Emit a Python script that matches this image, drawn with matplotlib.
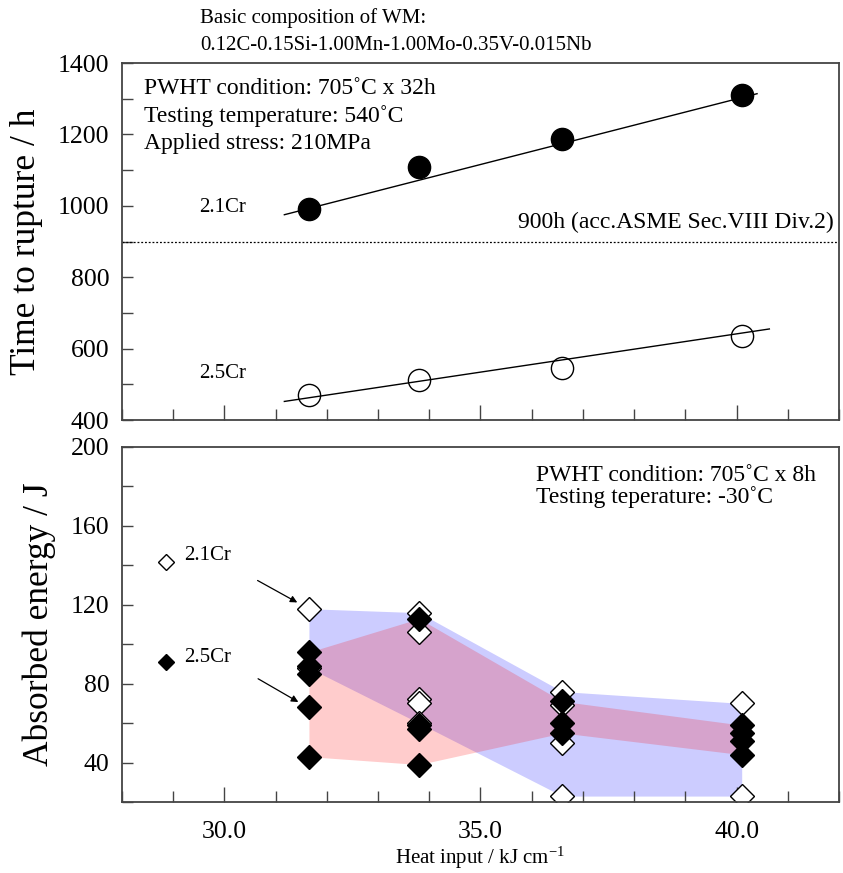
import numpy as np
import matplotlib
matplotlib.use("Agg")
from matplotlib import pyplot as plt
from matplotlib.ticker import MultipleLocator

plt.rcParams['font.family'] = ['Liberation Serif', 'DejaVu Serif']
plt.rcParams['mathtext.fontset'] = 'stix'

# heat input (kJ/cm) of the four welds
heat_input = [31.65, 33.8, 36.6, 40.1]

# creep rupture time (h)
rupture_21cr = [991, 1108, 1188, 1309]
rupture_25cr = [471, 513, 546, 634]
# trend lines
trend_21cr_x = [31.17, 40.40]
trend_21cr_y = [975, 1314]
trend_25cr_x = [31.17, 40.64]
trend_25cr_y = [452, 655]
asme_limit = 900

# absorbed energy (J), several specimens per weld
energy_21cr = [[118, 88], [116, 106, 72, 70, 60], [76, 69, 50, 23], [70, 23]]
energy_25cr = [[96, 89, 85, 68, 43], [113, 59, 57, 39], [71, 60, 55], [59, 55, 51, 44]]

W, H = 843, 873
fig = plt.figure(figsize=(W / 100, H / 100), dpi=100)

def box(l, t, r, b):
    return [l / W, 1 - b / H, (r - l) / W, (b - t) / H]

ax1 = fig.add_axes(box(122, 63, 839, 420))
ax2 = fig.add_axes(box(122, 447, 839, 802))

for ax in (ax1, ax2):
    ax.set_xlim(28, 42)
    ax.xaxis.set_major_locator(MultipleLocator(5))
    ax.xaxis.set_minor_locator(MultipleLocator(1))
    ax.tick_params(axis='x', which='major', direction='in', length=11, width=1, color='#444444', labelsize=18.5, pad=14)
    ax.tick_params(axis='x', which='minor', direction='in', length=8, width=1, color='#444444')
    ax.tick_params(axis='y', which='both', direction='in', length=8, width=1, color='#444444', labelsize=18.5, pad=9)
    for s in ax.spines.values():
        s.set_color('#444444')
        s.set_linewidth(1.3)

# ---- top: time to rupture ----
ax1.set_ylim(400, 1400)
ax1.yaxis.set_major_locator(MultipleLocator(200))
ax1.yaxis.set_minor_locator(MultipleLocator(100))
ax1.tick_params(axis='x', labelbottom=False)
ax1.set_ylabel('Time to rupture / h', fontsize=25.5, labelpad=11)

ax1.plot(trend_21cr_x, trend_21cr_y, color='black', lw=1)
ax1.plot(trend_25cr_x, trend_25cr_y, color='black', lw=1)
ax1.plot(heat_input, rupture_21cr, 'o', ms=16, mfc='black', mec='black', ls='none')
ax1.plot(heat_input, rupture_25cr, 'o', ms=16, mfc='none', mec='black', mew=1, ls='none')
ax1.axhline(asme_limit, color='black', lw=0.9, ls=(0, (1.5, 1.5)))
ax1.text(41.9, asme_limit + 25, '900h (acc.ASME Sec.VIII Div.2)', fontsize=17, ha='right', va='bottom')
ax1.text(29.5, 996, '2.1Cr', fontsize=15, va='center')
ax1.text(29.5, 529, '2.5Cr', fontsize=15, va='center')
ax1.text(0.03, 0.958, 'PWHT condition: 705˚C x 32h\nTesting temperature: 540˚C\nApplied stress: 210MPa',
         transform=ax1.transAxes, fontsize=17, va='top', linespacing=1.38)

fig.text(200 / W, 1 - 18 / H, 'Basic composition of WM:', fontsize=15, va='center')
fig.text(200 / W, 1 - 46 / H, '0.12C-0.15Si-1.00Mn-1.00Mo-0.35V-0.015Nb', fontsize=15, va='center')

# ---- bottom: absorbed energy ----
ax2.set_ylim(20, 200)
ax2.yaxis.set_major_locator(MultipleLocator(40))
ax2.yaxis.set_minor_locator(MultipleLocator(20))
ax2.set_xticks([30, 35, 40])
ax2.set_xticklabels(['30.0', '35.0', '40.0'])
ax2.set_ylabel('Absorbed energy / J', fontsize=25.5, labelpad=11)
ax2.set_xlabel('Heat input / kJ cm$^{\\mathregular{-1}}$', fontsize=15, labelpad=1)

lo21 = [min(v) for v in energy_21cr]
hi21 = [max(v) for v in energy_21cr]
lo25 = [min(v) for v in energy_25cr]
hi25 = [max(v) for v in energy_25cr]
ax2.fill_between(heat_input, lo21, hi21, color='#0000ff', alpha=0.2, lw=0)
ax2.fill_between(heat_input, lo25, hi25, color='#ff0000', alpha=0.2, lw=0)

for x, vals in zip(heat_input, energy_21cr):
    ax2.plot([x] * len(vals), vals, 'D', ms=12, mfc='white', mec='black', mew=1, ls='none')
for x, vals in zip(heat_input, energy_25cr):
    ax2.plot([x] * len(vals), vals, 'D', ms=12, mfc='black', mec='black', mew=1, ls='none')

# legend markers and labels
ax2.plot([28.86], [141.6], 'D', ms=8.5, mfc='white', mec='black', mew=1)
ax2.plot([28.86], [91], 'D', ms=8.5, mfc='black', mec='black')
ax2.text(29.22, 145, '2.1Cr', fontsize=15, va='center')
ax2.text(29.22, 93.5, '2.5Cr', fontsize=15, va='center')
ax2.annotate('', xy=(31.47, 120.5), xytext=(30.6, 133),
             arrowprops=dict(arrowstyle='-|>', color='black', lw=0.9, mutation_scale=10))
ax2.annotate('', xy=(31.49, 70), xytext=(30.61, 83.2),
             arrowprops=dict(arrowstyle='-|>', color='black', lw=0.9, mutation_scale=10))

ax2.text(0.578, 0.95, 'PWHT condition: 705˚C x 8h\nTesting teperature: -30˚C',
         transform=ax2.transAxes, fontsize=17, va='top', linespacing=1.0)

fig.savefig('out.png', dpi=100)
